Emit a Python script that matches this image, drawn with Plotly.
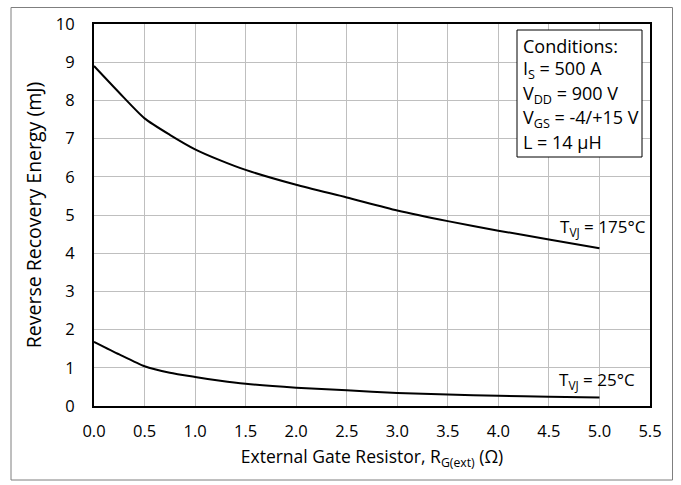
import plotly.graph_objects as go

rg = [0.0, 0.25, 0.5, 0.75, 1.0, 1.25, 1.5, 2.0, 2.5, 3.0, 3.5, 4.0, 4.5, 5.0]
e_175 = [8.9, 8.2, 7.53, 7.1, 6.72, 6.43, 6.18, 5.79, 5.46, 5.12, 4.84, 4.59, 4.36, 4.13]
e_25 = [1.68, 1.35, 1.04, 0.87, 0.76, 0.66, 0.58, 0.48, 0.41, 0.34, 0.30, 0.27, 0.24, 0.22]

x_ticks = [0.0, 0.5, 1.0, 1.5, 2.0, 2.5, 3.0, 3.5, 4.0, 4.5, 5.0, 5.5]
y_ticks = list(range(0, 11))

conditions = ["Conditions:", "I<sub>S</sub> = 500 A", "V<sub>DD</sub> = 900 V",
              "V<sub>GS</sub> = -4/+15 V", "L = 14 µH"]

FONT = "Open Sans, Lato, Arial"

W, H = 681, 485
L, R, T, B = 94, 31, 24, 79
pw, ph = W - L - R, H - T - B

fig = go.Figure()
for ys in (e_175, e_25):
    fig.add_trace(go.Scatter(x=rg, y=ys, mode="lines",
                             line=dict(color="black", width=2, shape="spline", smoothing=0.6),
                             showlegend=False, hoverinfo="skip"))

fig.update_layout(
    width=W, height=H,
    margin=dict(l=L, r=R, t=T, b=B, autoexpand=False),
    paper_bgcolor="white", plot_bgcolor="white",
    font=dict(family=FONT, size=16, color="black"),
    xaxis=dict(range=[0, 5.5], tickvals=x_ticks, ticktext=[f"{v:.1f}" for v in x_ticks],
               showgrid=True, gridcolor="#bfbfbf", gridwidth=1, zeroline=False,
               showline=True, linecolor="black", linewidth=2, mirror=True, ticks="", ticklen=0,
               ticklabelstandoff=9, automargin=False,
               tickfont=dict(size=16.5),
               title=dict(text="External Gate Resistor, R<sub>G(ext)</sub> (Ω)",
                          font=dict(size=17.5), standoff=10)),
    yaxis=dict(range=[0, 10], tickvals=y_ticks, showgrid=True, gridcolor="#bfbfbf", gridwidth=1,
               zeroline=False, automargin=False,
               showline=True, linecolor="black", linewidth=2, mirror=True, ticks="", ticklen=0,
               ticklabelstandoff=14,
               tickfont=dict(size=16.5),
               title=dict(text="Reverse Recovery Energy (mJ)", font=dict(size=19.5), standoff=9)),
)


def px_to_paper_x(p):
    return (p - L) / pw


def px_to_paper_y(p):
    return 1 - (p - T) / ph


# outer border
fig.add_shape(type="rect", xref="paper", yref="paper",
              x0=px_to_paper_x(11), x1=px_to_paper_x(672.5), y0=px_to_paper_y(480), y1=px_to_paper_y(7.5),
              line=dict(color="#7f7f7f", width=1), fillcolor="rgba(0,0,0,0)", layer="below")

# conditions box
fig.add_shape(type="rect", xref="paper", yref="paper",
              x0=px_to_paper_x(517), x1=px_to_paper_x(642), y0=px_to_paper_y(157), y1=px_to_paper_y(30),
              line=dict(color="black", width=1), fillcolor="white")
for i, t in enumerate(conditions):
    fig.add_annotation(xref="paper", yref="paper", x=px_to_paper_x(521), y=px_to_paper_y(46 + 24 * i),
                       text=t, showarrow=False, xanchor="left", yanchor="middle", font=dict(size=18))

fig.add_annotation(x=5.47, y=4.66, text="T<sub>VJ</sub> = 175°C", showarrow=False, xanchor="right",
                   yanchor="middle", font=dict(size=17), borderpad=0)
fig.add_annotation(x=5.36, y=0.67, text="T<sub>VJ</sub> = 25°C", showarrow=False, xanchor="right",
                   yanchor="middle", font=dict(size=17), borderpad=0)

fig.write_html("out.html")
